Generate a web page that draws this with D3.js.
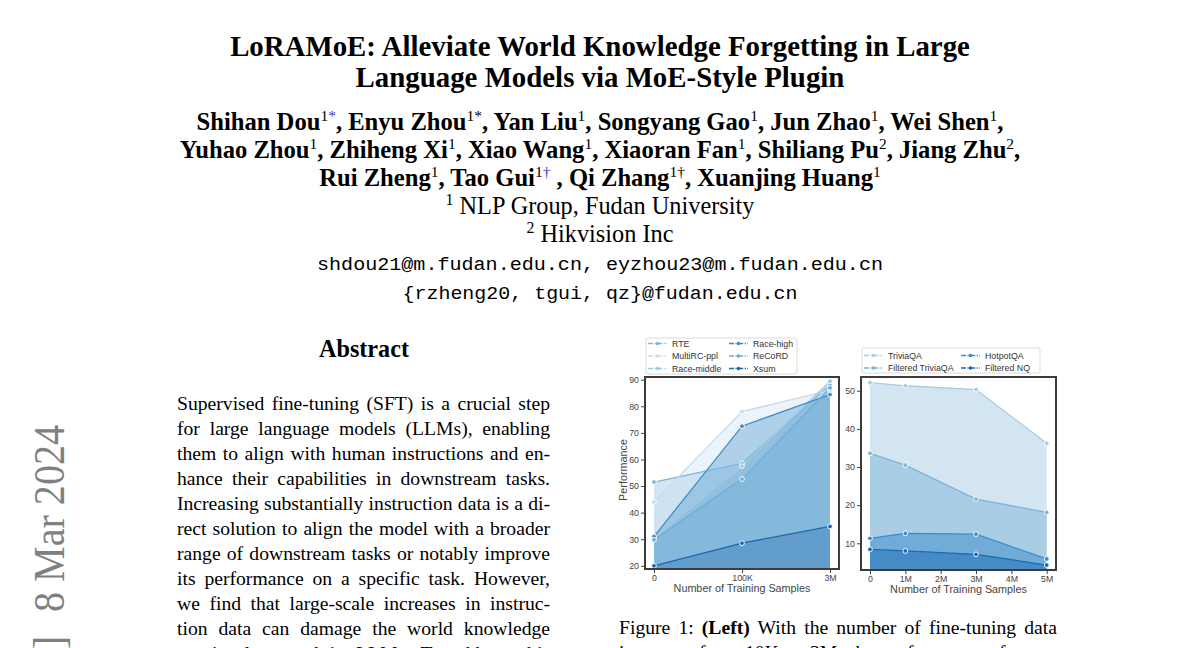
<!DOCTYPE html>
<html>
<head>
<meta charset="utf-8">
<script src="https://cdn.jsdelivr.net/npm/d3@7"></script>
<style>
  html,body{margin:0;padding:0;background:#fff;}
  svg{display:block;}
</style>
</head>
<body>
<script>
// ---- left panel data ----
const leftX=['0','100K','3M'];
const leftNames=['RTE','MultiRC-ppl','Race-middle','Race-high','ReCoRD','Xsum'];
const rteScores=[51.5,58.5,88.1];
const multircScores=[44,78,86];
const raceMiddleScores=[30.5,57.5,89.4];
const raceHighScores=[31,72.5,84.4];
const recordScores=[29.8,52.6,86.9];
const xsumScores=[20,28.5,34.8];
const leftTicks=[20,30,40,50,60,70,80,90];

// ---- right panel data ----
const rightX=[0,1,3,5]; // millions of samples
const rightNames=['TriviaQA','Filtered TriviaQA','HotpotQA','Filtered NQ'];
const triviaScores=[52.1,51.3,50.3,36.2];
const filteredTriviaScores=[33.6,30.5,21.6,18.1];
const hotpotScores=[11.3,12.6,12.4,5.9];
const filteredNqScores=[8.4,8.0,7.1,4.3];
const rightTicks=[10,20,30,40,50];
const rightTickLabels=['0','1M','2M','3M','4M','5M'];

// ---- page text ----
const titleLines=['LoRAMoE: Alleviate World Knowledge Forgetting in Large','Language Models via MoE-Style Plugin'];
const authorLines=[
  [['Shihan Dou'],['1','s'],['*','b'],[', Enyu Zhou'],['1*','s'],[', Yan Liu'],['1','s'],[', Songyang Gao'],['1','s'],[', Jun Zhao'],['1','s'],[', Wei Shen'],['1','s'],[',']],
  [['Yuhao Zhou'],['1','s'],[', Zhiheng Xi'],['1','s'],[', Xiao Wang'],['1','s'],[', Xiaoran Fan'],['1','s'],[', Shiliang Pu'],['2','s'],[', Jiang Zhu'],['2','s'],[',']],
  [['Rui Zheng'],['1','s'],[', Tao Gui'],['1','s'],['\u2020','b'],[' , Qi Zhang'],['1\u2020','s'],[', Xuanjing Huang'],['1','s']]
];
const affiliations=[['1',' NLP Group, Fudan University'],['2',' Hikvision Inc']];
const emails=['shdou21@m.fudan.edu.cn, eyzhou23@m.fudan.edu.cn','{rzheng20, tgui, qz}@fudan.edu.cn'];
const abstractLines=[
  'Supervised fine-tuning (SFT) is a crucial step',
  'for large language models (LLMs), enabling',
  'them to align with human instructions and en-',
  'hance their capabilities in downstream tasks.',
  'Increasing substantially instruction data is a di-',
  'rect solution to align the model with a broader',
  'range of downstream tasks or notably improve',
  'its performance on a specific task. However,',
  'we find that large-scale increases in instruc-',
  'tion data can damage the world knowledge',
  'previously stored in LLMs. To address this'
];
const captionLines=['With the number of fine-tuning data','increases from 10K to 3M, the performance of many'];

const W=1200,H=648;
const serif='"Liberation Serif","Times New Roman",serif';
const sans='"Liberation Sans",Arial,sans-serif';
const svg=d3.select('body').append('svg').attr('width',W).attr('height',H);
svg.append('rect').attr('width',W).attr('height',H).attr('fill','#fff');

// scale a text's font so its natural width matches a target width
function fit(sel,target){
  const w=sel.node().getComputedTextLength();
  const fs=+sel.attr('font-size');
  const nf=fs*target/w;
  sel.attr('font-size',nf);
  return nf;
}
// justify with word spacing
function justify(sel,target){
  const w=sel.node().getComputedTextLength();
  const n=(sel.text().match(/ /g)||[]).length;
  if(n)sel.attr('word-spacing',(target-w)/n);
}

// title
const t1=svg.append('text').attr('x',600).attr('y',56).attr('text-anchor','middle')
  .attr('font-family',serif).attr('font-weight','bold').attr('font-size',25).text(titleLines[0]);
const titleSize=fit(t1,740);
svg.append('text').attr('x',600).attr('y',87).attr('text-anchor','middle')
  .attr('font-family',serif).attr('font-weight','bold').attr('font-size',titleSize).text(titleLines[1]);

// authors
let authorSize=19;
authorLines.forEach((segs,i)=>{
  const t=svg.append('text').attr('x',600).attr('y',130+i*28).attr('text-anchor','middle')
    .attr('font-family',serif).attr('font-weight','bold').attr('font-size',authorSize);
  let up=false;
  segs.forEach(([s,k])=>{
    const sp=t.append('tspan').text(s);
    if(k){
      sp.attr('font-size','0.63em').attr('font-weight','normal');
      if(!up){sp.attr('dy','-0.58em');up=true;}
      if(k==='b')sp.attr('fill','#3333cc');
    }else if(up){sp.attr('dy','0.365em');up=false;}
  });
  if(i===0)authorSize=fit(t,807);
});

// affiliations
affiliations.forEach(([n,s],i)=>{
  const t=svg.append('text').attr('x',600).attr('y',214+i*28).attr('text-anchor','middle')
    .attr('font-family',serif).attr('font-size',19.5);
  t.append('tspan').attr('font-size','0.65em').attr('dy','-0.55em').text(n);
  t.append('tspan').attr('dy','0.36em').text(s);
  if(i===0)fit(t,309);
  else t.attr('font-size',svg.select('text:nth-last-of-type(2)').attr('font-size'));
});

// emails
emails.forEach((e,i)=>{
  svg.append('text').attr('x',600).attr('y',270+i*28.5).attr('text-anchor','middle')
    .attr('font-family','"Liberation Mono","DejaVu Sans Mono",monospace').attr('font-size',19)
    .attr('textLength',i?395:566).attr('lengthAdjust','spacingAndGlyphs').text(e);
});

// abstract
const ah=svg.append('text').attr('x',364).attr('y',357).attr('text-anchor','middle')
  .attr('font-family',serif).attr('font-weight','bold').attr('font-size',21).text('Abstract');
fit(ah,90);
const absTexts=abstractLines.map((l,i)=>svg.append('text').attr('x',177).attr('y',410+i*25)
  .attr('font-family',serif).attr('font-size',18).text(l));
const maxW=d3.max(absTexts,t=>t.node().getComputedTextLength());
const bodySize=18*373/maxW*0.995;
absTexts.forEach(t=>{t.attr('font-size',bodySize);justify(t,373);});

// caption
const cap=svg.append('text').attr('x',619).attr('y',634).attr('font-family',serif).attr('font-size',bodySize);
cap.append('tspan').text('Figure 1: ');
cap.append('tspan').attr('font-weight','bold').text('(Left)');
cap.append('tspan').text(' '+captionLines[0]);
justify(cap,438);
const cap2=svg.append('text').attr('x',619).attr('y',659).attr('font-family',serif).attr('font-size',bodySize).text(captionLines[1]);
justify(cap2,438);

// arXiv stamp
const stamp=svg.append('text').attr('transform','translate(64,425) rotate(-90) scale(1,1.13)')
  .attr('text-anchor','end').attr('font-family',serif).attr('font-size',40).attr('fill','#808080')
  .text('8 Mar 2024');
const stampSize=fit(stamp,187);
svg.append('text').attr('transform','translate(64,636) rotate(-90) scale(1,1.13)')
  .attr('text-anchor','end').attr('font-family',serif).attr('font-size',stampSize).attr('fill','#808080')
  .text('arXiv:2312.09979v4 [cs.CL]');

// ---- chart panels ----
function legend(g,names,colors,box,cols,rowY){
  g.append('rect').attr('x',box[0]).attr('y',box[1]).attr('width',box[2]).attr('height',box[3])
    .attr('rx',2).attr('fill','#fff').attr('stroke','#d0d0d0').attr('stroke-width',0.8);
  names.forEach((n,i)=>{
    const c=cols[Math.floor(i/rowY.length)],y=rowY[i%rowY.length];
    g.append('line').attr('x1',c[0]).attr('x2',c[1]).attr('y1',y).attr('y2',y)
      .attr('stroke',colors[i]).attr('stroke-width',1.3).attr('stroke-dasharray','5,1.5,1.2,1.5');
    g.append('circle').attr('cx',(c[0]+c[1])/2).attr('cy',y).attr('r',1.8).attr('fill',colors[i]);
    g.append('text').attr('x',c[1]+5).attr('y',y+3).attr('font-family',sans).attr('font-size',8.8)
      .attr('fill','#333').text(n);
  });
}

function panel(o){
  const g=svg.append('g');
  const [fx0,fy0,fx1,fy1]=o.frame;
  const y=d3.scaleLinear().domain(o.yDomain).range([fy1,fy0]);
  const x=o.x;
  const area=d3.area().x((d,i)=>x(o.xs[i])).y0(y(o.yDomain[0])).y1(d=>y(d));
  const line=d3.line().x((d,i)=>x(o.xs[i])).y(d=>y(d));
  o.series.forEach((s,i)=>{
    g.append('path').datum(s).attr('d',area).attr('fill',o.colors[i]).attr('fill-opacity',o.alpha);
  });
  o.series.forEach((s,i)=>{
    g.append('path').datum(s).attr('d',line).attr('fill','none').attr('stroke',o.colors[i]).attr('stroke-width',1.3);
  });
  o.series.forEach((s,i)=>{
    g.selectAll(null).data(s).enter().append('circle')
      .attr('cx',(d,j)=>x(o.xs[j])).attr('cy',d=>y(d)).attr('r',2.4)
      .attr('fill',o.colors[i]).attr('stroke','#fff').attr('stroke-width',0.9);
  });
  g.append('rect').attr('x',fx0).attr('y',fy0).attr('width',fx1-fx0).attr('height',fy1-fy0)
    .attr('fill','none').attr('stroke','#3c3c3c').attr('stroke-width',2);
  const ya=g.append('g').attr('transform',`translate(${fx0-1},0)`)
    .call(d3.axisLeft(y).tickValues(o.yTicks).tickSize(3).tickPadding(2));
  const xa=g.append('g').attr('transform',`translate(0,${fy1+1})`).call(o.xAxis);
  [ya,xa].forEach(a=>{
    a.select('.domain').remove();
    a.selectAll('line').attr('stroke','#444');
    a.selectAll('text').attr('font-family',sans).attr('font-size',8.8).attr('fill','#444');
  });
  g.append('text').attr('x',(fx0+fx1)/2).attr('y',fy1+23).attr('text-anchor','middle')
    .attr('font-family',sans).attr('font-size',10.8).attr('fill','#444').text('Number of Training Samples');
  legend(g,o.names,o.colors,o.legendBox,o.legendCols,o.legendRows);
  return g;
}

const lx=d3.scalePoint().domain(leftX).range([654,830]);
const left=panel({
  frame:[645,377,839,569],
  yDomain:[18.8,91],
  x:lx,xs:leftX,
  xAxis:d3.axisBottom(lx).tickSize(3).tickPadding(2),
  yTicks:leftTicks,
  series:[rteScores,multircScores,raceMiddleScores,raceHighScores,recordScores,xsumScores],
  names:leftNames,
  colors:['#7db7de','#c6dbef','#9ecae1','#3f8ec6','#6baed6','#1f68ae'],
  alpha:0.34,
  legendBox:[646,338,151,36],
  legendCols:[[648,667],[729,748]],
  legendRows:[343.5,356,368.5]
});
left.append('text').attr('transform','translate(627,470) rotate(-90)').attr('text-anchor','middle')
  .attr('font-family',sans).attr('font-size',10.8).attr('fill','#444').text('Performance');

const rx=d3.scaleLinear().domain([0,5]).range([870,1046.7]);
panel({
  frame:[861,377,1056,570],
  yDomain:[3,53.6],
  x:rx,xs:rightX,
  xAxis:d3.axisBottom(rx).tickValues([0,1,2,3,4,5]).tickFormat((d,i)=>rightTickLabels[i]).tickSize(3).tickPadding(2),
  yTicks:rightTicks,
  series:[triviaScores,filteredTriviaScores,hotpotScores,filteredNqScores],
  names:rightNames,
  colors:['#a9cbe5','#7eb5d6','#3a8ccb','#1a6ab3'],
  alpha:0.5,
  legendBox:[862,348,178,25],
  legendCols:[[864,883],[961,980]],
  legendRows:[355.5,368]
});
</script>
</body>
</html>
